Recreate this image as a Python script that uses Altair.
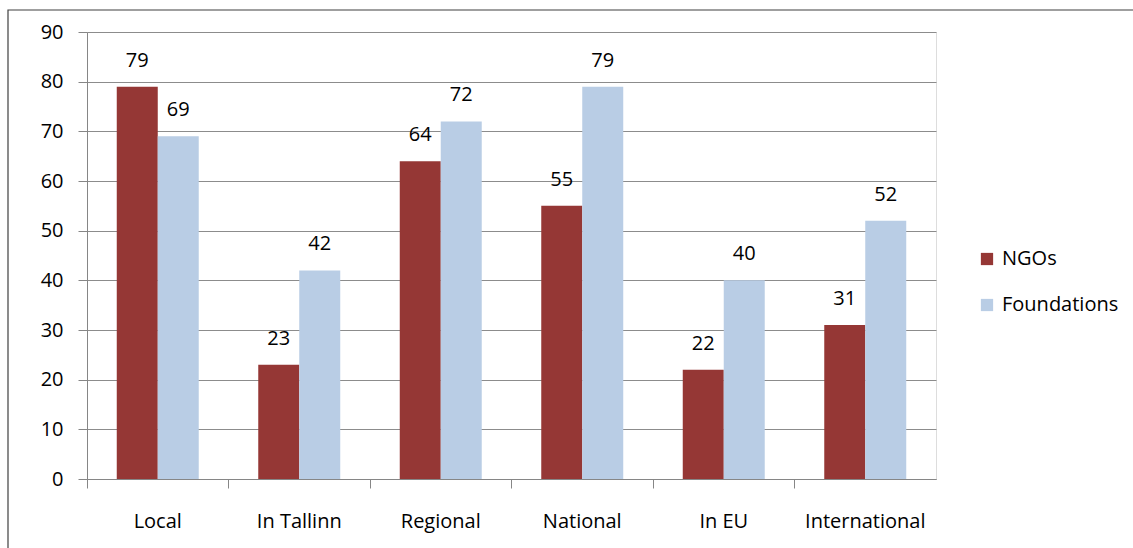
import altair as alt
import pandas as pd

categories = ["Local", "In Tallinn", "Regional", "National", "In EU", "International"]
series = ["NGOs", "Foundations"]
ngos = [79, 23, 64, 55, 22, 31]
foundations = [69, 42, 72, 79, 40, 52]
colors = ["#953735", "#B9CDE5"]

rows = []
for c, n, f in zip(categories, ngos, foundations):
    rows.append({"cat": c, "series": "NGOs", "value": n})
    rows.append({"cat": c, "series": "Foundations", "value": f})
df = pd.DataFrame(rows)

FONT = "Open Sans"
FS = 20

x = alt.X("cat:N", sort=categories, title=None,
          scale=alt.Scale(paddingInner=0, paddingOuter=0),
          axis=alt.Axis(bandPosition=0, labelAngle=0, tickSize=9, labelPadding=33,
                        domainColor="#868686", tickColor="#868686",
                        labelFont=FONT, labelFontSize=FS, labelColor="#000000",
                        labelBaseline="middle", grid=False))
xo = alt.XOffset("series:N", sort=series,
                 scale=alt.Scale(paddingInner=0, paddingOuter=0.726))
y = alt.Y("value:Q", title=None,
          scale=alt.Scale(domain=[0, 90], nice=False),
          axis=alt.Axis(values=list(range(0, 100, 10)), tickSize=9, labelPadding=15,
                        domainColor="#868686", tickColor="#868686",
                        gridColor="#8c8c8c", gridWidth=1,
                        labelFont=FONT, labelFontSize=FS, labelColor="#000000"))

bars = alt.Chart(df).mark_bar(size=41).encode(
    x=x, xOffset=xo, y=y,
    color=alt.Color("series:N", sort=series,
                    scale=alt.Scale(domain=series, range=colors),
                    legend=alt.Legend(title=None, orient="none", legendX=890, legendY=217,
                                      symbolType="square", symbolSize=150,
                                      symbolStrokeWidth=0, rowPadding=26,
                                      labelFont=FONT, labelFontSize=FS,
                                      labelColor="#000000", labelOffset=5)),
)

labels = alt.Chart(df).mark_text(baseline="bottom", dy=-16, font=FONT, fontSize=FS,
                                 color="#000000").encode(
    x=alt.X("cat:N", sort=categories),
    xOffset=alt.XOffset("series:N", sort=series),
    y="value:Q",
    text="value:Q",
)

frame = alt.Chart(pd.DataFrame({"a": [0]})).mark_rect(
    fill=None, stroke="#404040", strokeWidth=1.2).encode(
    x=alt.value(-79), x2=alt.value(1300), y=alt.value(-22), y2=alt.value(700))

chart = alt.layer(bars, labels, frame).properties(
    width=849, height=447,
    autosize=alt.AutoSizeParams(type="none"),
    padding={"left": 87, "top": 32, "right": 197, "bottom": 69},
).configure_view(stroke=None).configure(background="white")

chart.save("out.html", embed_options={"renderer": "svg", "actions": False})
